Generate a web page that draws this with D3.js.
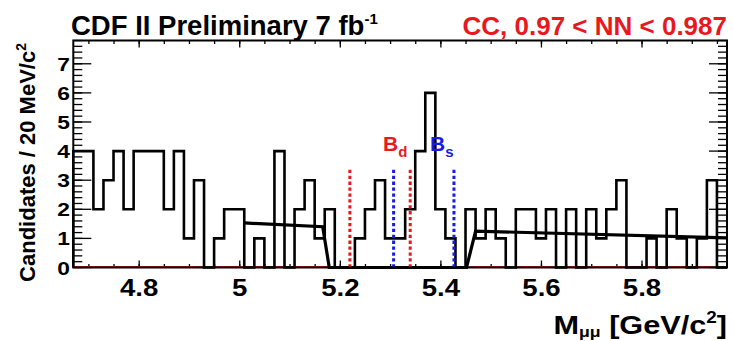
<!DOCTYPE html>
<html>
<head>
<meta charset="utf-8">
<script src="https://cdn.jsdelivr.net/npm/d3@7"></script>
<style>
  body { margin: 0; background: #fff; }
  svg { display: block; }
  text { font-family: "Liberation Sans", Arial, Helvetica, sans-serif; font-weight: bold; }
</style>
</head>
<body>
<svg id="chart" width="733" height="341"></svg>
<script>
// histogram: 20 MeV bins starting at 4.669 GeV/c^2
const xMin = 4.669;
const binWidth = 0.02;
const counts = [
  4, 4, 2, 3, 4, 2, 4, 4, 4, 2,
  4, 1, 3, 0, 1, 2, 2, 0, 1, 0,
  4, 0, 2, 3, 1, 2, 0, 0, 1, 2,
  3, 1, 1, 2, 4, 6, 2, 1, 0, 2,
  1, 2, 1, 0, 2, 2, 1, 2, 0, 2,
  0, 2, 1, 2, 3, 0, 0, 1, 0, 2,
  1, 0, 1, 3, 0
];

// sideband fit (zero in the blinded signal region)
const fitX = [5.009, 5.165, 5.178, 5.451, 5.469, 5.969];
const fitY = [1.53, 1.40, 0, 0, 1.25, 1.02];

// mass windows
const bdWindow = [5.219, 5.339];
const bsWindow = [5.306, 5.426];
const windowTop = 3.4;

const xTicks = [4.8, 5.0, 5.2, 5.4, 5.6, 5.8];
const xTickLabels = ["4.8", "5", "5.2", "5.4", "5.6", "5.8"];
const yTicks = [0, 1, 2, 3, 4, 5, 6, 7];

const svg = d3.select('#chart');

const frame = { left: 73.3, right: 727, top: 40.5, bottom: 267.5 };
const xMax = xMin + binWidth * counts.length;

const x = d3.scaleLinear().domain([xMin, xMax]).range([frame.left, frame.right]);
const y = d3.scaleLinear().domain([0, 7.8]).range([frame.bottom, frame.top]);

// frame ticks -------------------------------------------------------------
const minorX = d3.range(4.7, 5.96, 0.05).filter(v => v > xMin && v < xMax);
const minorY = d3.range(0, 7.81, 0.2);

const ticks = svg.append('g').attr('stroke', '#000').attr('stroke-width', 1.3);
function vTick(v, len) {
  ticks.append('line').attr('x1', x(v)).attr('x2', x(v)).attr('y1', frame.bottom).attr('y2', frame.bottom - len);
  ticks.append('line').attr('x1', x(v)).attr('x2', x(v)).attr('y1', frame.top).attr('y2', frame.top + len);
}
function hTick(v, len) {
  ticks.append('line').attr('y1', y(v)).attr('y2', y(v)).attr('x1', frame.left).attr('x2', frame.left + len);
  ticks.append('line').attr('y1', y(v)).attr('y2', y(v)).attr('x1', frame.right).attr('x2', frame.right - len);
}
minorX.forEach(v => vTick(v, 3.5));
xTicks.forEach(v => vTick(v, 7));
minorY.forEach(v => hTick(v, 9));
yTicks.forEach(v => hTick(v, 18));

// red zero line
svg.append('line')
  .attr('x1', frame.left).attr('x2', frame.right)
  .attr('y1', y(0) - 1).attr('y2', y(0) - 1)
  .attr('stroke', '#d02020').attr('stroke-width', 1);

// histogram --------------------------------------------------------------
const steps = [[xMin, 0]];
counts.forEach((c, i) => {
  steps.push([xMin + i * binWidth, c]);
  steps.push([xMin + (i + 1) * binWidth, c]);
});
steps.push([xMax, 0]);

svg.append('path')
  .datum(steps)
  .attr('fill', 'none')
  .attr('stroke', '#000')
  .attr('stroke-width', 2.6)
  .attr('stroke-linejoin', 'miter')
  .attr('d', d3.line().x(d => x(d[0])).y(d => y(d[1])));

// fit
svg.append('path')
  .datum(fitX.map((v, i) => [v, fitY[i]]))
  .attr('fill', 'none')
  .attr('stroke', '#000')
  .attr('stroke-width', 3.2)
  .attr('d', d3.line().x(d => x(d[0])).y(d => y(d[1])));

// mass windows
function windowLines(vals, color) {
  vals.forEach(v => {
    svg.append('line')
      .attr('x1', x(v)).attr('x2', x(v))
      .attr('y1', y(0)).attr('y2', y(windowTop))
      .attr('stroke', color).attr('stroke-width', 3)
      .attr('stroke-dasharray', '3.3,2.6');
  });
}
windowLines(bdWindow, '#e8191e');
windowLines(bsWindow, '#1a1ae6');

// frame
svg.append('rect')
  .attr('x', frame.left).attr('y', frame.top)
  .attr('width', frame.right - frame.left).attr('height', frame.bottom - frame.top)
  .attr('fill', 'none').attr('stroke', '#000').attr('stroke-width', 2);

// B labels
const bd = svg.append('text').attr('x', 383).attr('y', 151).attr('fill', '#e8191e').attr('font-size', 21);
bd.append('tspan').text('B');
bd.append('tspan').attr('font-size', 15).attr('dy', 6).text('d');
const bs = svg.append('text').attr('x', 430).attr('y', 151).attr('fill', '#1a1ae6').attr('font-size', 21);
bs.append('tspan').text('B');
bs.append('tspan').attr('font-size', 15).attr('dy', 6).text('s');

// tick labels (reference glyphs are a bit stretched horizontally)
svg.append('g').selectAll('text')
  .data(xTicks)
  .join('text')
  .attr('transform', d => `translate(${x(d)},296) scale(1.2,1)`)
  .attr('text-anchor', 'middle')
  .attr('font-size', 23)
  .text((d, i) => xTickLabels[i]);

svg.append('g').selectAll('text')
  .data(yTicks)
  .join('text')
  .attr('transform', d => `translate(70,${y(d) + 7}) scale(1.2,1)`)
  .attr('text-anchor', 'end')
  .attr('font-size', 19)
  .text(d => d);

// axis titles
const yt = svg.append('text')
  .attr('transform', 'translate(35,43) rotate(-90)')
  .attr('text-anchor', 'end')
  .attr('font-size', 22);
yt.append('tspan').text('Candidates / 20 MeV/c');
yt.append('tspan').attr('font-size', 14).attr('dy', -9).text('2');

const xt = svg.append('text')
  .attr('transform', 'translate(727,334) scale(1.18,1)')
  .attr('text-anchor', 'end')
  .attr('font-size', 26);
xt.append('tspan').text('M');
xt.append('tspan').attr('font-size', 15).attr('dy', 3).text('μμ');
xt.append('tspan').attr('dy', -3).text(' [GeV/c');
xt.append('tspan').attr('font-size', 16).attr('dy', -11).text('2');
xt.append('tspan').attr('dy', 11).text(']');

// titles
const t1 = svg.append('text').attr('x', 71).attr('y', 35).attr('font-size', 27.5).attr('fill', '#000');
t1.append('tspan').text('CDF II Preliminary 7 fb');
t1.append('tspan').attr('font-size', 15).attr('dy', -11).text('-1');

svg.append('text')
  .attr('x', 727).attr('y', 35)
  .attr('text-anchor', 'end')
  .attr('font-size', 26)
  .attr('fill', '#e8191e')
  .text('CC, 0.97 < NN < 0.987');
</script>
</body>
</html>
